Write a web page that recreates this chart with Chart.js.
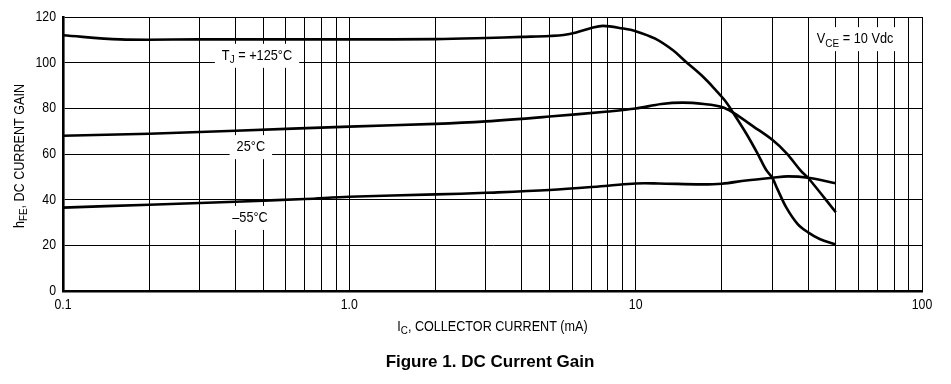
<!DOCTYPE html>
<html><head><meta charset="utf-8">
<script src="https://cdn.jsdelivr.net/npm/chart.js@4/dist/chart.umd.min.js"></script>
<style>html,body{margin:0;padding:0;background:#fff}#wrap{width:951px;height:384px}</style>
</head><body><div id="wrap"><canvas id="c" width="951" height="384"></canvas></div>
<script>
// ---- data ----
const currentHot = [0.1, 0.158, 0.3, 1.0, 2.0, 3.0, 4.0, 5.0, 5.6, 6.2, 7.0, 7.7, 9.0, 10, 11.7, 13.5, 15, 17.3, 19.1, 20.5, 21.9, 24.3, 26.6, 28.5, 30, 31.3, 33.6, 36.8, 40, 43.9, 50];
const gainHot    = [112, 110.2, 110.2, 110.2, 110.3, 110.8, 111.3, 111.7, 112.1, 113.2, 115.2, 116.1, 115, 113.8, 110.5, 105.4, 100.3, 93.5, 87.8, 83.4, 78.1, 69.1, 60.4, 53.2, 49.6, 44.5, 36.5, 29.3, 25.7, 22.8, 20.4];
const current25  = [0.1, 0.2, 0.4, 1.0, 2.0, 3.0, 5.0, 8.0, 10, 12.3, 14.6, 17.3, 20, 21.9, 25.8, 30, 33.6, 37.9, 40, 50];
const gain25     = [68, 68.9, 70.2, 72, 73.2, 74.3, 76.4, 78.6, 79.9, 81.9, 82.5, 81.9, 80.6, 78.1, 72, 66.2, 60.4, 52.4, 49.6, 34.5];
const currentCold = [0.1, 0.2, 0.4, 0.7, 1.0, 2.0, 3.0, 5.0, 8.0, 10, 12, 16.9, 20, 24.3, 30, 34, 40, 50];
const gainCold    = [36.5, 37.8, 39.1, 40.3, 41.3, 42.3, 43, 44.2, 46.1, 47.1, 47.1, 46.7, 47, 48.4, 49.6, 50.2, 49.6, 47.2];

const xGridValues = [0.1,0.2,0.3,0.4,0.5,0.6,0.7,0.8,0.9,1,2,3,4,5,6,7,8,9,10,20,30,40,50,60,70,80,90,100];
const xLabelValues = [0.1, 1, 10, 100];
const xLabelTexts  = ['0.1', '1.0', '10', '100'];
const yTickValues  = [0, 20, 40, 60, 80, 100, 120];

// curve labels (text parts: [text, isSubscript]) and their anchor in data units
const noteParts = [
  [['T',0],['J',1],[' = +125°C',0]],
  [['25°C',0]],
  [['–55°C',0]],
  [['V',0],['CE',1],[' = 10 Vdc',0]]
];
const noteX = [0.476, 0.453, 0.450, 58.4];
const noteY = [103, 63, 32, 110.3];

const F = "'Liberation Sans', Arial, sans-serif";

function measureRich(ctx, parts, size, weight) {
  let w = 0;
  for (const [t, sub] of parts) {
    ctx.font = (weight||'') + ' ' + (sub ? size*0.78 : size) + 'px ' + F;
    w += ctx.measureText(t).width;
  }
  return w;
}
// draws horizontally condensed text (reference uses a narrow sans face)
function drawRich(ctx, parts, cx, cy, size, sx, weight) {
  const w = measureRich(ctx, parts, size, weight);
  ctx.save();
  ctx.translate(cx, cy);
  ctx.scale(sx, 1);
  let x = -w/2;
  ctx.textBaseline = 'middle';
  ctx.textAlign = 'left';
  ctx.fillStyle = '#000';
  for (const [t, sub] of parts) {
    const s = sub ? size*0.78 : size;
    ctx.font = (weight||'') + ' ' + s + 'px ' + F;
    ctx.fillText(t, x, sub ? size*0.28 : 0);
    x += ctx.measureText(t).width;
  }
  ctx.restore();
  return w * sx;
}
function drawAligned(ctx, t, x, y, size, sx, align) {
  ctx.save();
  ctx.translate(x, y);
  ctx.scale(sx, 1);
  ctx.font = size + 'px ' + F;
  ctx.fillStyle = '#000';
  ctx.textAlign = align;
  ctx.textBaseline = 'middle';
  ctx.fillText(t, 0, 0);
  ctx.restore();
}

const textPlugin = {
  id: 'texts',
  beforeDatasetsDraw(chart) {
    const ctx = chart.ctx, xs = chart.scales.x, ys = chart.scales.y;
    const sx = 0.85;
    for (let i = 0; i < noteParts.length; i++) {
      const px = xs.getPixelForValue(noteX[i]);
      const py = ys.getPixelForValue(noteY[i]);
      const w = measureRich(ctx, noteParts[i], 15) * sx;
      ctx.save();
      ctx.fillStyle = '#fff';
      ctx.fillRect(px - w/2 - 7, py - 12, w + 14, 24);
      ctx.restore();
      drawRich(ctx, noteParts[i], px, py, 15, sx);
    }
  },
  afterDraw(chart) {
    const ctx = chart.ctx, a = chart.chartArea, xs = chart.scales.x, ys = chart.scales.y;
    // tick labels
    for (let i = 0; i < xLabelValues.length; i++) {
      drawAligned(ctx, xLabelTexts[i], xs.getPixelForValue(xLabelValues[i]), a.bottom + 13.5, 15, 0.82, 'center');
    }
    for (const v of yTickValues) {
      drawAligned(ctx, String(v), a.left - 7, ys.getPixelForValue(v), 15, 0.82, 'right');
    }
    // y axis title
    ctx.save();
    ctx.translate(20, (a.top + a.bottom)/2 + 2);
    ctx.rotate(-Math.PI/2);
    drawRich(ctx, [['h',0],['FE',1],[', DC CURRENT GAIN',0]], 0, 0, 14, 0.9);
    ctx.restore();
    drawRich(ctx, [['I',0],['C',1],[', COLLECTOR CURRENT (mA)',0]], (a.left + a.right)/2, 327, 14, 0.9);
    drawRich(ctx, [['Figure 1. DC Current Gain',0]], 490, 362, 17, 1, 'bold');
  }
};

const mk = (xs, ys) => xs.map((x, i) => ({x: x, y: ys[i]}));
const lineStyle = {borderColor:'#000', borderWidth:2.6, pointRadius:0, showLine:true, fill:false, tension:0.35};

new Chart(document.getElementById('c'), {
  type: 'scatter',
  data: { datasets: [
    Object.assign({label:'TJ = +125°C', data: mk(currentHot, gainHot)}, lineStyle),
    Object.assign({label:'25°C', data: mk(current25, gain25)}, lineStyle),
    Object.assign({label:'-55°C', data: mk(currentCold, gainCold)}, lineStyle)
  ]},
  options: {
    responsive:false, animation:false, devicePixelRatio:1,
    layout: { padding: { left:0, top:17, right:29, bottom:0 } },
    plugins: { legend:{display:false}, title:{display:false}, tooltip:{enabled:false} },
    scales: {
      x: {
        type:'logarithmic', min:0.1, max:100,
        afterBuildTicks: s => { s.ticks = xGridValues.map(v => ({value:v})); },
        afterFit: s => { s.height = 93; },
        ticks: { display:false, autoSkip:false },
        grid: { color:'#000', lineWidth:1, drawTicks:false },
        border: { color:'#000', width:2.6 }
      },
      y: {
        min:0, max:120,
        afterBuildTicks: s => { s.ticks = yTickValues.map(v => ({value:v})); },
        afterFit: s => { s.width = 63; },
        ticks: { display:false },
        grid: { color:'#000', lineWidth:1, drawTicks:false },
        border: { color:'#000', width:2.6 }
      }
    }
  },
  plugins: [textPlugin]
});
</script></body></html>
